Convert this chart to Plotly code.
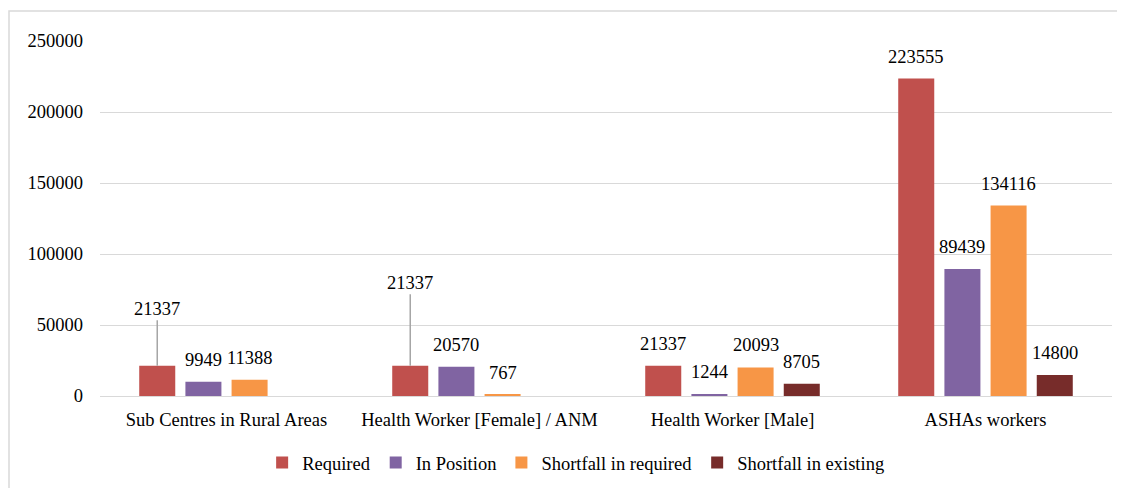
import plotly.graph_objects as go

categories = ["Sub Centres in Rural Areas", "Health Worker [Female] / ANM",
              "Health Worker [Male]", "ASHAs workers"]
series_names = ["Required", "In Position", "Shortfall in required", "Shortfall in existing"]
required = [21337, 21337, 21337, 223555]
in_position = [9949, 20570, 1244, 89439]
shortfall_required = [11388, 767, 20093, 134116]
shortfall_existing = [None, None, 8705, 14800]
colors = ["#C0504D", "#8064A2", "#F79646", "#772C2A"]
y_ticks = [0, 50000, 100000, 150000, 200000, 250000]

all_series = [required, in_position, shortfall_required, shortfall_existing]

# page has an 8px body margin; figure offset by it
W, H = 1117, 480
L, R, T, B = 92, 13, 33, 92
FONT = "Liberation Serif"
FS = 18.5

bargap = 0.27
bargroupgap = 0.22
n = len(all_series)
slot = (1 - bargap) / n

fig = go.Figure()
xs = list(range(len(categories)))
for name, vals, col in zip(series_names, all_series, colors):
    fig.add_trace(go.Bar(x=xs, y=vals, name=name, marker=dict(color=col, line=dict(width=0))))

# data labels; two "Required" labels are displaced with leader lines as in the reference
displaced = {(0, 0): -57, (0, 1): -83}
annotations = []
for k, vals in enumerate(all_series):
    off = (k - (n - 1) / 2) * slot
    for i, v in enumerate(vals):
        if v is None:
            continue
        if (k, i) in displaced:
            annotations.append(dict(x=i + off, y=v, xref="x", yref="y", text=str(v),
                                    showarrow=True, arrowhead=0, arrowwidth=1.5,
                                    arrowcolor="#a6a6a6", ax=0, ay=displaced[(k, i)],
                                    font=dict(family=FONT, size=FS, color="#000")))
        else:
            annotations.append(dict(x=i + off, y=v, xref="x", yref="y", text=str(v),
                                    showarrow=False, yshift=22,
                                    font=dict(family=FONT, size=FS, color="#000")))

pw = W - L - R
ph = H - T - B
# chart border (top and left visible in the reference)
shapes = [dict(type="rect", xref="paper", yref="paper",
               x0=(1 - L) / pw, x1=(W + 10 - L) / pw,
               y0=-(B + 10) / ph, y1=1 + (T - 3) / ph,
               line=dict(color="#d9d9d9", width=1.5), fillcolor="rgba(0,0,0,0)", layer="below")]

fig.update_layout(
    width=W, height=H,
    margin=dict(l=L, r=R, t=T, b=B, autoexpand=False),
    paper_bgcolor="white", plot_bgcolor="white",
    barmode="group", bargap=bargap, bargroupgap=bargroupgap,
    font=dict(family=FONT, size=FS, color="#000"),
    annotations=annotations, shapes=shapes,
    showlegend=True,
    legend=dict(orientation="h", x=0.47, xanchor="center",
                yref="container", y=1 - 455 / H, yanchor="middle",
                font=dict(family=FONT, size=FS, color="#000"),
                itemwidth=30, bgcolor="rgba(0,0,0,0)"),
    xaxis=dict(tickmode="array", tickvals=xs, ticktext=categories, range=[-0.5, len(categories) - 0.5],
               showgrid=False, zeroline=False, showline=False, ticks="", automargin=False,
               ticklabelstandoff=10, tickfont=dict(family=FONT, size=FS, color="#000")),
    yaxis=dict(range=[0, 250000], tickmode="array", tickvals=y_ticks,
               ticktext=[str(t) for t in y_ticks], automargin=False,
               showgrid=True, gridcolor="#d9d9d9", gridwidth=1.3,
               zeroline=True, zerolinecolor="#d9d9d9", zerolinewidth=1.3,
               showline=False, ticks="", ticklabelstandoff=16,
               tickfont=dict(family=FONT, size=FS, color="#000")),
)

fig.write_html("out.html")
